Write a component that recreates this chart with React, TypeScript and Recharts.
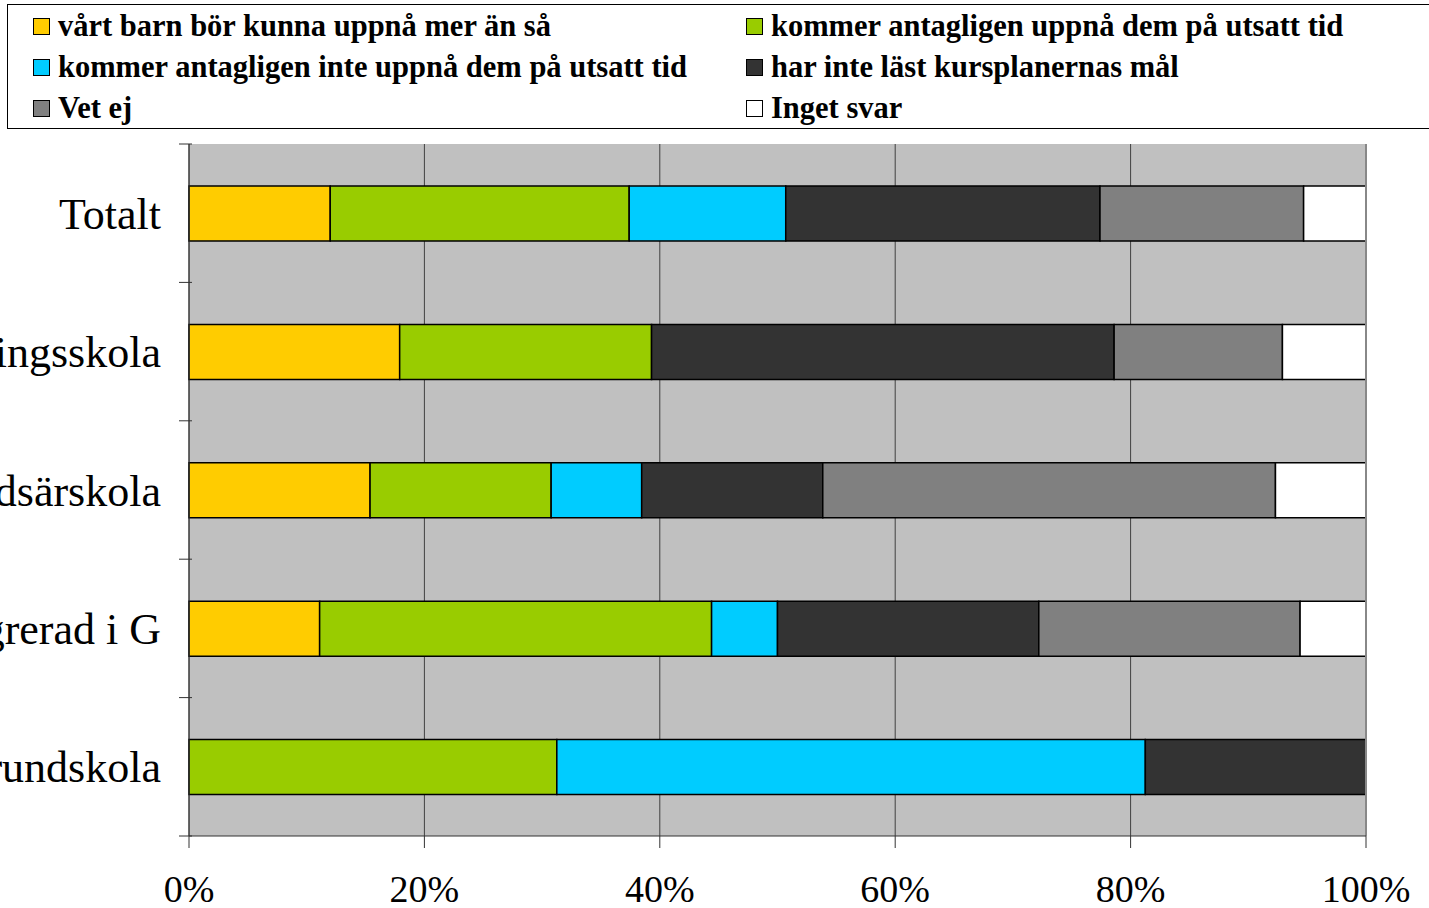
import { BarChart, Bar, XAxis, YAxis, CartesianGrid, ReferenceLine } from 'recharts';

const categories = ['Totalt', 'Träningsskola', 'Grundsärskola', 'Integrerad i G', 'Grundskola'];

const merAnSa = [12.0, 17.9, 15.4, 11.1, 0];
const utsattTid = [25.4, 21.4, 15.4, 33.3, 31.25];
const inteUtsattTid = [13.3, 0, 7.7, 5.6, 50];
const ejLast = [26.7, 39.3, 15.4, 22.2, 18.75];
const vetEj = [17.3, 14.3, 38.5, 22.2, 0];
const ingetSvar = [5.3, 7.1, 7.7, 5.6, 0];

const xTicks = [0, 0.2, 0.4, 0.6, 0.8, 1];

const SERIES = [
  { key: 'merAnSa', name: 'vårt barn bör kunna uppnå mer än så', color: '#FFCC00', values: merAnSa },
  { key: 'utsattTid', name: 'kommer antagligen uppnå dem på utsatt tid', color: '#99CC00', values: utsattTid },
  { key: 'inteUtsattTid', name: 'kommer antagligen inte uppnå dem på utsatt tid', color: '#00CCFF', values: inteUtsattTid },
  { key: 'ejLast', name: 'har inte läst kursplanernas mål', color: '#333333', values: ejLast },
  { key: 'vetEj', name: 'Vet ej', color: '#808080', values: vetEj },
  { key: 'ingetSvar', name: 'Inget svar', color: '#FFFFFF', values: ingetSvar },
];

const FONT = '"Liberation Serif", "Times New Roman", serif';
const BAND = 692 / categories.length;

const chartData = categories.map((name, i) => {
  const row: Record<string, string | number> = { name };
  SERIES.forEach((s) => {
    row[s.key] = s.values[i];
  });
  return row;
});

function CategoryTick(props: any) {
  const { x, y, payload, index } = props;
  return (
    <g>
      <line x1={x - 2} x2={x + 11} y1={y - BAND / 2} y2={y - BAND / 2} stroke="#333" />
      {index === categories.length - 1 && (
        <line x1={x - 2} x2={x + 11} y1={y + BAND / 2} y2={y + BAND / 2} stroke="#333" />
      )}
      <text x={x - 20} y={y} dy="0.355em" textAnchor="end" fontSize={44} fontFamily={FONT} fill="#000">
        {payload.value}
      </text>
    </g>
  );
}

function LegendBox() {
  return (
    <div
      style={{
        position: 'absolute',
        left: 7,
        top: 4,
        width: 1440,
        height: 125,
        border: '1.5px solid #000',
        boxSizing: 'border-box',
        fontFamily: FONT,
        fontSize: 30.5,
        fontWeight: 'bold',
        color: '#000',
        zIndex: 2,
      }}
    >
      {SERIES.map((s, i) => {
        const col = i % 2;
        const row = Math.floor(i / 2);
        return (
          <div
            key={s.key}
            style={{
              position: 'absolute',
              left: col === 0 ? 25 : 738,
              top: 1 + row * 41,
              height: 40,
              display: 'flex',
              alignItems: 'center',
              whiteSpace: 'nowrap',
            }}
          >
            <span
              style={{
                display: 'inline-block',
                width: 17,
                height: 17,
                background: s.color,
                border: '1.5px solid #000',
                boxSizing: 'border-box',
                marginRight: 8,
              }}
            />
            <span>{s.name}</span>
          </div>
        );
      })}
    </div>
  );
}

export default function App() {
  return (
    <div style={{ position: 'absolute', left: 0, top: 0, width: 1429, height: 908, overflow: 'hidden', background: '#fff' }}>
      <LegendBox />
      <BarChart
        width={1429}
        height={908}
        data={chartData}
        layout="vertical"
        stackOffset="expand"
        barSize={55}
        margin={{ top: 144, right: 63, bottom: 0, left: 0 }}
      >
        <CartesianGrid fill="#C0C0C0" horizontal={false} stroke="#404040" strokeWidth={1} />
        <XAxis
          type="number"
          domain={[0, 1]}
          ticks={xTicks}
          tickFormatter={(v: number) => `${Math.round(v * 100)}%`}
          height={72}
          axisLine={{ stroke: '#333' }}
          tickLine={{ stroke: '#333' }}
          tickSize={12}
          tickMargin={27}
          tick={{ fontSize: 38, fontFamily: FONT, fill: '#000' }}
        />
        <XAxis xAxisId="top" type="number" domain={[0, 1]} orientation="top" height={0} tick={false} tickLine={false} axisLine={{ stroke: '#888', strokeWidth: 2 }} />
        <YAxis
          type="category"
          dataKey="name"
          width={189}
          axisLine={{ stroke: '#333' }}
          tickLine={false}
          tick={<CategoryTick />}
          interval={0}
        />
        <ReferenceLine x={1} stroke="#888" strokeWidth={2} />
        {SERIES.map((s) => (
          <Bar
            key={s.key}
            dataKey={s.key}
            name={s.name}
            stackId="a"
            fill={s.color}
            stroke="#000"
            strokeWidth={1.5}
            isAnimationActive={false}
          />
        ))}
      </BarChart>
    </div>
  );
}
